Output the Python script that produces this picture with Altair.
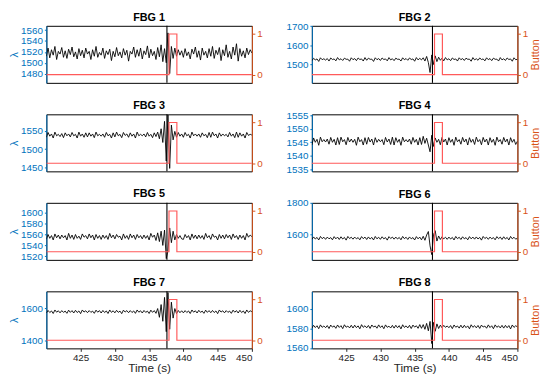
import altair as alt
import pandas as pd

# sampling grid (s)
TIME = [round(420 + 0.25 * k, 2) for k in range(121)]
EVENT_T = [437.6]
BTN_T = [420, 437.9, 437.9, 439.05, 439.05, 450]
BTN_V = [0, 0, 1, 1, 0, 0]

fbg1 = [1512, 1527, 1509, 1524, 1514, 1530, 1506, 1521,
        1516, 1528, 1510, 1522, 1508, 1525, 1515, 1529,
        1511, 1520, 1507, 1526, 1513, 1523, 1509, 1527,
        1516, 1521, 1506, 1524, 1512, 1530, 1510, 1519,
        1514, 1527, 1508, 1522, 1515, 1525, 1504, 1521,
        1511, 1528, 1513, 1520, 1509, 1526, 1514, 1523,
        1503, 1521, 1516, 1529, 1510, 1524, 1512, 1527,
        1507, 1522, 1515, 1531, 1509, 1525, 1513, 1521,
        1506, 1528, 1511, 1533, 1502, 1526, 1500, 1555,
        1480, 1530, 1508, 1527, 1512, 1524, 1514, 1522,
        1510, 1526, 1513, 1520, 1507, 1525, 1516, 1529,
        1510, 1522, 1505, 1527, 1514, 1521, 1509, 1526,
        1512, 1530, 1508, 1523, 1515, 1528, 1504, 1524,
        1513, 1533, 1510, 1521, 1507, 1529, 1514, 1535,
        1503, 1526, 1512, 1522, 1509, 1527, 1515, 1524,
        1518]
fbg2 = [1520, 1532, 1524, 1529, 1516, 1535, 1525, 1530,
        1523, 1531, 1518, 1534, 1526, 1529, 1519, 1536,
        1524, 1530, 1521, 1533, 1527, 1528, 1517, 1535,
        1525, 1531, 1520, 1534, 1526, 1529, 1518, 1536,
        1522, 1533, 1527, 1528, 1516, 1535, 1525, 1531,
        1521, 1534, 1526, 1529, 1519, 1536, 1524, 1530,
        1520, 1533, 1527, 1528, 1518, 1535, 1525, 1531,
        1522, 1534, 1526, 1529, 1517, 1536, 1524, 1532,
        1524, 1535, 1518, 1542, 1510, 1458, 1550, 1500,
        1545, 1515, 1538, 1522, 1533, 1519, 1536, 1524,
        1530, 1520, 1534, 1526, 1529, 1518, 1535, 1525,
        1531, 1521, 1533, 1527, 1528, 1517, 1536, 1524,
        1530, 1522, 1534, 1526, 1529, 1519, 1535, 1525,
        1531, 1520, 1533, 1527, 1528, 1518, 1536, 1524,
        1530, 1521, 1534, 1526, 1529, 1517, 1535, 1525,
        1527]
fbg3 = [1532, 1545, 1535, 1541, 1530, 1546, 1536, 1540,
        1534, 1542, 1531, 1544, 1536, 1541, 1533, 1545,
        1536, 1540, 1530, 1546, 1535, 1541, 1532, 1544,
        1533, 1544, 1535, 1541, 1531, 1546, 1536, 1540,
        1535, 1541, 1532, 1545, 1536, 1540, 1530, 1544,
        1533, 1546, 1536, 1540, 1531, 1545, 1537, 1541,
        1532, 1544, 1535, 1541, 1530, 1546, 1536, 1540,
        1536, 1541, 1533, 1545, 1535, 1540, 1531, 1544,
        1534, 1546, 1528, 1555, 1518, 1575, 1468, 1592,
        1448, 1565, 1525, 1548, 1532, 1545, 1535, 1541,
        1532, 1545, 1536, 1540, 1530, 1546, 1536, 1541,
        1535, 1541, 1532, 1544, 1536, 1540, 1531, 1545,
        1532, 1546, 1536, 1541, 1530, 1544, 1535, 1541,
        1536, 1540, 1533, 1545, 1535, 1541, 1531, 1546,
        1532, 1544, 1535, 1541, 1530, 1545, 1537, 1540,
        1538]
fbg4 = [1544.0, 1546.6, 1545.0, 1546.1, 1543.9, 1546.9, 1545.2, 1546.0,
        1545.1, 1546.2, 1544.3, 1546.8, 1545.0, 1546.1, 1544.0, 1546.7,
        1544.2, 1546.9, 1545.2, 1546.0, 1544.1, 1546.8, 1545.1, 1546.2,
        1545.0, 1546.1, 1543.9, 1546.9, 1545.2, 1546.0, 1544.0, 1546.7,
        1544.3, 1546.8, 1545.1, 1546.2, 1544.0, 1546.7, 1545.0, 1546.1,
        1545.2, 1546.0, 1544.1, 1546.8, 1545.1, 1546.2, 1544.2, 1546.9,
        1544.0, 1546.7, 1545.0, 1546.1, 1543.9, 1546.9, 1545.2, 1546.0,
        1545.1, 1546.2, 1544.3, 1546.8, 1545.0, 1546.1, 1544.0, 1546.7,
        1544.2, 1547.2, 1544.6, 1546.5, 1544.0, 1541.5, 1547.6, 1543.5,
        1546.6, 1545.0, 1546.1, 1544.1, 1546.8, 1545.1, 1546.2, 1544.0,
        1546.7, 1545.0, 1546.1, 1543.9, 1546.9, 1545.2, 1546.0, 1544.3,
        1546.8, 1545.1, 1546.2, 1544.0, 1546.7, 1545.0, 1546.1, 1544.2,
        1546.9, 1545.2, 1546.0, 1544.1, 1546.8, 1545.1, 1546.2, 1544.0,
        1546.7, 1545.0, 1546.1, 1543.9, 1546.9, 1545.2, 1546.0, 1544.3,
        1546.8, 1545.1, 1546.2, 1544.0, 1546.7, 1545.0, 1546.1, 1544.2,
        1545.4]
fbg5 = [1551, 1560, 1553, 1558, 1550, 1561, 1554, 1559,
        1552, 1559, 1554, 1558, 1550, 1562, 1553, 1559,
        1551, 1560, 1553, 1557, 1551, 1561, 1555, 1558,
        1552, 1561, 1554, 1559, 1550, 1560, 1553, 1558,
        1551, 1559, 1553, 1558, 1551, 1562, 1554, 1559,
        1552, 1560, 1555, 1557, 1550, 1561, 1553, 1558,
        1551, 1561, 1554, 1559, 1551, 1560, 1554, 1558,
        1552, 1559, 1553, 1558, 1550, 1562, 1555, 1559,
        1549, 1563, 1547, 1566, 1540, 1568, 1516, 1530,
        1572, 1545, 1566, 1550, 1560, 1553, 1558, 1552,
        1551, 1560, 1554, 1558, 1550, 1561, 1553, 1559,
        1552, 1559, 1553, 1558, 1551, 1562, 1554, 1558,
        1551, 1561, 1555, 1557, 1550, 1560, 1553, 1559,
        1552, 1560, 1554, 1559, 1551, 1561, 1554, 1558,
        1551, 1559, 1553, 1558, 1550, 1562, 1555, 1559,
        1556]
fbg6 = [1570, 1586, 1573, 1583, 1567, 1589, 1575, 1584,
        1571, 1585, 1574, 1582, 1568, 1588, 1574, 1585,
        1570, 1587, 1573, 1583, 1566, 1589, 1576, 1584,
        1572, 1585, 1574, 1582, 1568, 1588, 1575, 1585,
        1570, 1586, 1573, 1583, 1567, 1589, 1574, 1584,
        1571, 1587, 1574, 1582, 1566, 1588, 1576, 1585,
        1572, 1585, 1573, 1583, 1568, 1589, 1575, 1584,
        1570, 1586, 1574, 1582, 1567, 1588, 1574, 1585,
        1568, 1590, 1565, 1598, 1620, 1530, 1475, 1600,
        1625, 1560, 1592, 1570, 1587, 1574, 1584, 1571,
        1585, 1573, 1583, 1567, 1589, 1575, 1584, 1570,
        1587, 1574, 1582, 1568, 1588, 1574, 1585, 1572,
        1586, 1573, 1583, 1566, 1589, 1576, 1584, 1571,
        1585, 1574, 1582, 1568, 1588, 1575, 1585, 1570,
        1587, 1573, 1583, 1567, 1589, 1574, 1584, 1572,
        1578]
fbg7 = [1572, 1588, 1575, 1585, 1569, 1591, 1577, 1586,
        1573, 1587, 1576, 1584, 1570, 1590, 1576, 1587,
        1572, 1589, 1575, 1585, 1568, 1591, 1578, 1586,
        1574, 1587, 1576, 1584, 1570, 1590, 1577, 1587,
        1572, 1588, 1575, 1585, 1569, 1591, 1576, 1586,
        1573, 1589, 1576, 1584, 1568, 1590, 1578, 1587,
        1574, 1587, 1575, 1585, 1570, 1591, 1577, 1586,
        1572, 1588, 1576, 1584, 1569, 1590, 1576, 1587,
        1570, 1600, 1545, 1625, 1520, 1670, 1455, 1700,
        1470, 1640, 1540, 1600, 1568, 1588, 1574, 1586,
        1573, 1587, 1575, 1585, 1569, 1591, 1577, 1586,
        1572, 1589, 1576, 1584, 1570, 1590, 1576, 1587,
        1574, 1588, 1575, 1585, 1568, 1591, 1578, 1586,
        1573, 1587, 1576, 1584, 1570, 1590, 1577, 1587,
        1572, 1589, 1575, 1585, 1569, 1591, 1576, 1586,
        1580]
fbg8 = [1580.2, 1583.0, 1580.8, 1582.6, 1579.6, 1583.5, 1581.0, 1582.4,
        1580.6, 1582.8, 1579.8, 1583.3, 1581.2, 1582.5, 1580.0, 1583.4,
        1580.9, 1582.7, 1579.7, 1583.6, 1581.1, 1582.3, 1580.4, 1583.1,
        1580.3, 1583.2, 1580.7, 1582.5, 1579.5, 1583.7, 1581.0, 1582.6,
        1580.5, 1582.9, 1579.9, 1583.4, 1581.3, 1582.4, 1580.1, 1583.5,
        1580.8, 1582.6, 1579.6, 1583.5, 1581.0, 1582.2, 1580.3, 1583.0,
        1580.2, 1583.1, 1580.6, 1582.7, 1579.4, 1583.6, 1580.9, 1582.5,
        1580.4, 1583.0, 1579.8, 1583.3, 1581.2, 1582.6, 1580.0, 1583.8,
        1580.0, 1583.8, 1579.0, 1585.0, 1577.5, 1587.0, 1564.5, 1586.0,
        1577.0, 1584.5, 1579.8, 1583.2, 1580.5, 1583.0, 1581.0, 1582.4,
        1580.6, 1582.8, 1579.7, 1583.4, 1581.1, 1582.4, 1580.2, 1583.2,
        1580.3, 1583.1, 1580.7, 1582.5, 1579.5, 1583.6, 1581.0, 1582.7,
        1580.5, 1582.9, 1579.9, 1583.3, 1581.3, 1582.3, 1580.1, 1583.5,
        1580.8, 1582.6, 1579.6, 1583.5, 1581.0, 1582.5, 1580.4, 1583.0,
        1580.2, 1583.0, 1580.6, 1582.8, 1579.4, 1583.4, 1580.9, 1582.6,
        1581.5]

SERIES = [fbg1, fbg2, fbg3, fbg4, fbg5, fbg6, fbg7, fbg8]
TITLES = ["FBG 1", "FBG 2", "FBG 3", "FBG 4", "FBG 5", "FBG 6", "FBG 7", "FBG 8"]
Y_DOMAINS = [[1463, 1568], [1404, 1702], [1440, 1594], [1534.3, 1555.3],
             [1513.5, 1618], [1442, 1800], [1350, 1708], [1559.6, 1617.6]]
Y_TICKS = [[1480, 1500, 1520, 1540, 1560], [1500, 1600, 1700], [1450, 1500, 1550],
           [1535, 1540, 1545, 1550, 1555], [1520, 1540, 1560, 1580, 1600],
           [1600, 1800], [1400, 1600], [1560, 1580, 1600]]
X_TICKS = [425, 430, 435, 440, 445, 450]

BLUE = "#0072BD"
ORANGE = "#D95319"
RED = "#FF5A5A"
FONT = "Liberation Sans"
PW, PH = 209, 58
LABEL_FS = 10


def panel(idx):
    col = idx % 2
    row = idx // 2
    bottom = row == 3
    df = pd.DataFrame({"t": TIME, "v": SERIES[idx]})
    ev = pd.DataFrame({"t": EVENT_T})
    btn = pd.DataFrame({"t": BTN_T, "b": BTN_V, "i": list(range(len(BTN_T)))})

    # how far the top tick label sticks out above the plot (pixels)
    lo, hi = Y_DOMAINS[idx]
    top_px = (hi - max(Y_TICKS[idx])) / (hi - lo) * PH
    overhang = max(0.0, LABEL_FS / 2 - top_px)
    title_offset = 3 - overhang

    xkw = dict(values=X_TICKS, grid=False, labels=bottom, ticks=bottom,
               domain=False, labelColor="#262626", labelFontSize=10, format="d",
               tickColor="#262626", tickSize=3, labelPadding=1,
               titleFontSize=12, titleColor="#262626", titleFontWeight="normal",
               titlePadding=1)
    xkw["title"] = "Time (s)" if bottom else ""
    xenc = alt.X("t:Q", scale=alt.Scale(domain=[420, 450], nice=False, zero=False),
                 axis=alt.Axis(**xkw))

    lkw = dict(orient="left", values=Y_TICKS[idx], grid=False, domainColor=BLUE,
               tickColor=BLUE, labelColor=BLUE, labelFontSize=LABEL_FS, tickSize=2,
               format="d", labelPadding=2, titleColor=BLUE, titleFontSize=11,
               titleFontWeight="normal", titlePadding=1)
    lkw["title"] = "λ" if col == 0 else ""
    rkw = dict(orient="right", values=[0, 1], grid=False, domainColor=ORANGE,
               tickColor=ORANGE, labelColor=ORANGE, labelFontSize=LABEL_FS, tickSize=3,
               format="d", labelPadding=2, titleColor=ORANGE, titleFontSize=11,
               titleFontWeight="normal", titlePadding=2, titleAngle=270,
               titleBaseline="top")
    rkw["title"] = "Button" if col == 1 else ""

    sig = alt.Chart(df).mark_line(color="black", strokeWidth=0.9, clip=True).encode(
        x=xenc,
        y=alt.Y("v:Q", scale=alt.Scale(domain=Y_DOMAINS[idx], nice=False, zero=False),
                axis=alt.Axis(**lkw)),
    )
    rule = alt.Chart(ev).mark_rule(color="black", strokeWidth=1.1).encode(x=xenc)
    red = alt.Chart(btn).mark_line(color=RED, strokeWidth=1.2, clip=True).encode(
        x=xenc,
        y=alt.Y("b:Q", scale=alt.Scale(domain=[-0.2, 1.2], nice=False, zero=False),
                axis=alt.Axis(**rkw)),
        order="i:Q",
    )
    return alt.layer(sig, rule, red).resolve_scale(y="independent").properties(
        width=PW, height=PH,
        title=alt.TitleParams(TITLES[idx], fontSize=11, fontWeight="bold",
                              color="black", offset=title_offset, anchor="middle"),
    )


chart = alt.concat(*[panel(i) for i in range(8)], columns=2,
                   spacing={"row": 32, "column": 61}, bounds="flush").properties(
    padding={"left": 0, "top": 0, "right": 0, "bottom": 0}
).configure(font=FONT, background="white").configure_view(stroke="black", strokeWidth=1)

chart.save("out.html", embed_options={"renderer": "svg", "actions": False})
